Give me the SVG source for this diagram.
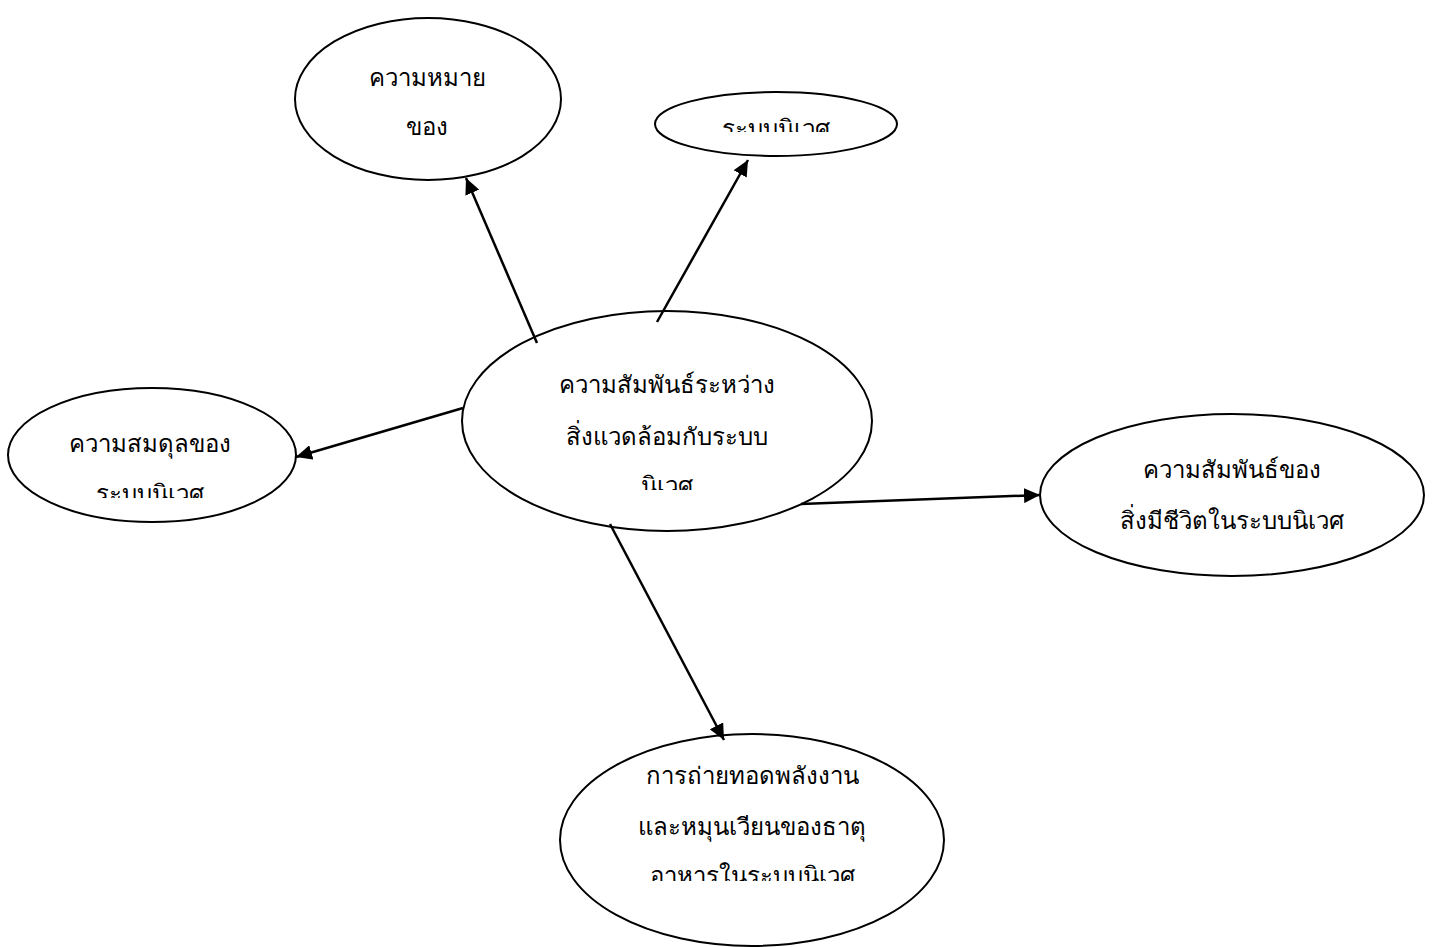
<svg xmlns="http://www.w3.org/2000/svg" width="1435" height="947" viewBox="0 0 1435 947">
<style>
.n ellipse{fill:#fff;stroke:#000;stroke-width:2}
.n text{font-family:"Liberation Serif","Noto Sans",serif;font-size:24px;fill:#000;text-anchor:middle}
.c line{stroke:#000;stroke-width:2.5}
</style>
<defs>
<marker id="ah" viewBox="0 0 10 10" refX="10" refY="5" markerWidth="6.4" markerHeight="6" orient="auto" markerUnits="strokeWidth" preserveAspectRatio="none">
<path d="M0,0 L10,5 L0,10 z" fill="#000"/>
</marker>
<clipPath id="clB"><rect x="0" y="0" width="1435" height="132"/></clipPath>
<clipPath id="clC"><rect x="0" y="0" width="1435" height="498"/></clipPath>
<clipPath id="clD"><rect x="0" y="0" width="1435" height="490"/></clipPath>
<clipPath id="clF"><rect x="0" y="0" width="1435" height="881"/></clipPath>
</defs>
<rect width="1435" height="947" fill="#fff"/>
<g id="nodeA" class="n">
<ellipse cx="428" cy="99" rx="133" ry="81"/>
<text x="427" y="86">ความหมาย</text><text x="427" y="135">ของ</text>
</g>
<g id="nodeB" class="n">
<ellipse cx="776" cy="124" rx="121" ry="32"/>
<g clip-path="url(#clB)"><text x="776" y="137">ระบบนิเวศ</text></g>
</g>
<g id="nodeC" class="n">
<ellipse cx="152" cy="455" rx="144" ry="67"/>
<g clip-path="url(#clC)"><text x="150" y="452">ความสมดุลของ</text><text x="150" y="502">ระบบนิเวศ</text></g>
</g>
<g id="nodeD" class="n">
<ellipse cx="667" cy="421" rx="205" ry="110"/>
<g clip-path="url(#clD)"><text x="667" y="393">ความสัมพันธ์ระหว่าง</text><text x="667" y="445">สิ่งแวดล้อมกับระบบ</text><text x="667" y="494">นิเวศ</text></g>
</g>
<g id="nodeE" class="n">
<ellipse cx="1232" cy="495" rx="192" ry="81"/>
<text x="1232" y="478">ความสัมพันธ์ของ</text><text x="1232" y="529">สิ่งมีชีวิตในระบบนิเวศ</text>
</g>
<g id="nodeF" class="n">
<ellipse cx="752" cy="840" rx="192" ry="106"/>
<g clip-path="url(#clF)"><text x="752" y="784">การถ่ายทอดพลังงาน</text><text x="752" y="835">และหมุนเวียนของธาตุ</text><text x="752" y="884">อาหารในระบบนิเวศ</text></g>
</g>
<g id="connectors" class="c">
<line x1="537" y1="343" x2="466" y2="178" marker-end="url(#ah)"/>
<line x1="657" y1="322" x2="748" y2="160" marker-end="url(#ah)"/>
<line x1="463" y1="408" x2="296" y2="457" marker-end="url(#ah)"/>
<line x1="801" y1="504" x2="1040" y2="495" marker-end="url(#ah)"/>
<line x1="610" y1="524" x2="724" y2="740" marker-end="url(#ah)"/>
</g>
</svg>
